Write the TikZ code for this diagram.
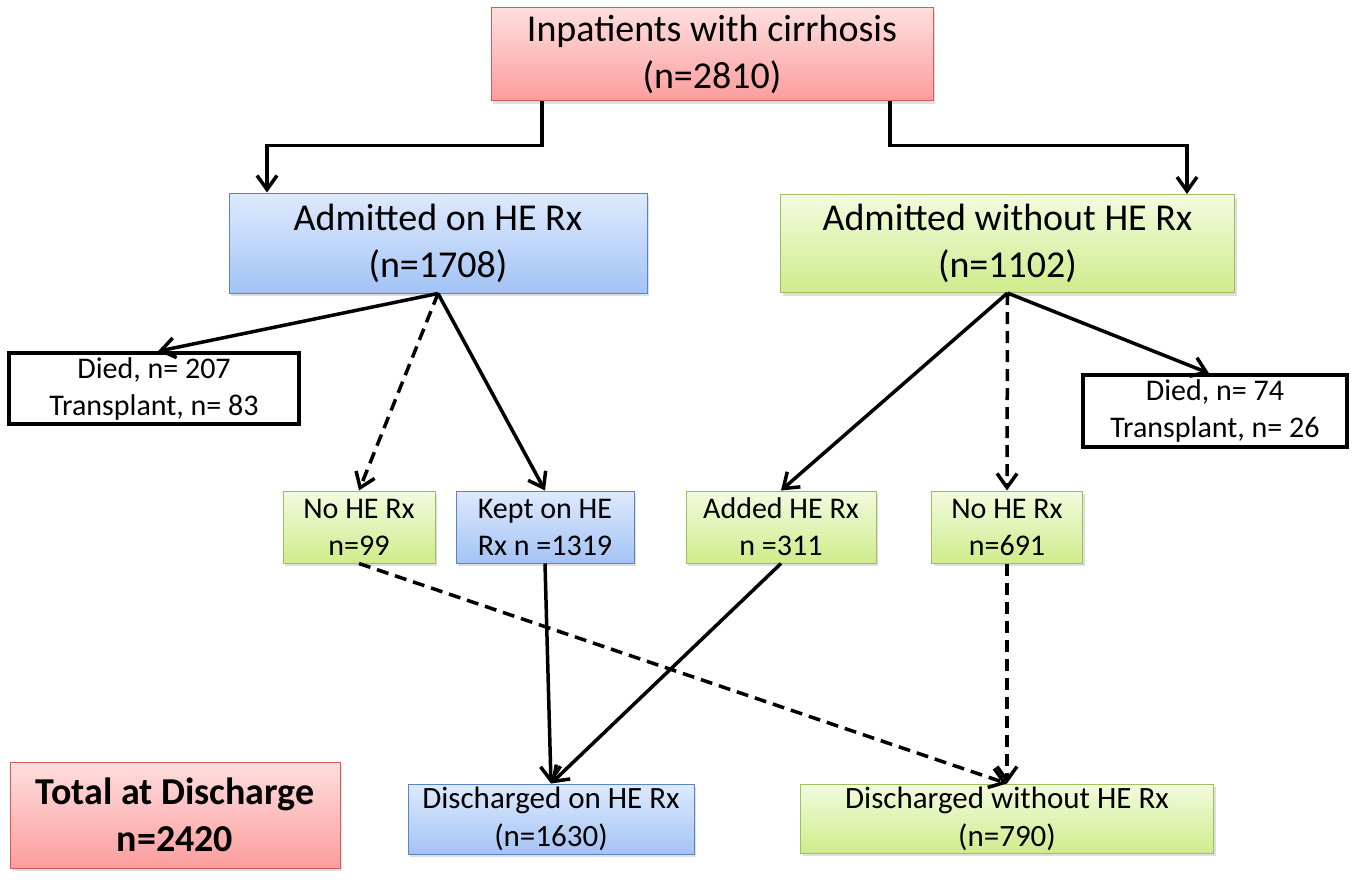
\documentclass[tikz,border=0pt]{standalone}
\usepackage{fontspec}
\setmainfont{Carlito}
\usetikzlibrary{arrows.meta,shadows}

\definecolor{redtop}{HTML}{FFDEDE}
\definecolor{redbot}{HTML}{FB9D9D}
\definecolor{redline}{HTML}{D45B5B}
\definecolor{bluetop}{HTML}{DEEAFD}
\definecolor{bluebot}{HTML}{A3C3F5}
\definecolor{blueline}{HTML}{5585C5}
\definecolor{greentop}{HTML}{F3FBDF}
\definecolor{greenbot}{HTML}{CFEC8B}
\definecolor{greenline}{HTML}{9BC25A}

\begin{document}
\begin{tikzpicture}[
            x=1pt, y=1pt,
            box/.style={
                rectangle,
                line width=1pt,
                align=center,
                inner sep=0pt,
                drop shadow={shadow xshift=2pt, shadow yshift=-3pt, opacity=0.25}
            },
            redbox/.style={box, draw=redline, top color=redtop, bottom color=redbot},
            bluebox/.style={box, draw=blueline, top color=bluetop, bottom color=bluebot},
            greenbox/.style={box, draw=greenline, top color=greentop, bottom color=greenbot},
            outcome/.style={
                rectangle,
                draw,
                line width=3.5pt,
                align=center,
                inner sep=0pt,
                fill=white
            },
            big/.style={font=\fontsize{38}{47}\selectfont},
            small/.style={font=\fontsize{30}{37}\selectfont},
            mid/.style={font=\fontsize{31}{38}\selectfont},
            link/.style={line width=3.5pt, -{Straight Barb[length=14pt,width=20pt]}},
            dashlink/.style={link, dash pattern=on 12pt off 7pt}
        ]

            \useasboundingbox (0,0) rectangle (1357,-880);

            \node[redbox, big, minimum width=442, minimum height=93] (inp) at (712,-54.5) {Inpatients with cirrhosis\\(n=2810)};

            \node[bluebox, big, minimum width=418, minimum height=100] (onrx) at (438,-243) {Admitted on HE Rx\\(n=1708)};
            \node[greenbox, big, minimum width=454, minimum height=98] (norx) at (1007.5,-243.5) {Admitted without HE Rx\\(n=1102)};

            \node[outcome, small, minimum width=290, minimum height=71] (diedL) at (154,-388.5) {Died, n= 207\\Transplant, n= 83};
            \node[outcome, small, minimum width=264, minimum height=72] (diedR) at (1215,-411) {Died, n= 74\\Transplant, n= 26};

            \node[greenbox, small, minimum width=152, minimum height=72] (noL) at (359,-527) {No HE Rx\\n=99};
            \node[bluebox, small, minimum width=178, minimum height=72] (kept) at (545,-527) {Kept on HE\\Rx n =1319};
            \node[greenbox, small, minimum width=190, minimum height=72] (added) at (781,-527) {Added HE Rx\\n =311};
            \node[greenbox, small, minimum width=151, minimum height=72] (noR) at (1007,-527) {No HE Rx\\n=691};

            \node[redbox, big, minimum width=330, minimum height=106] (total) at (175,-815) {\textbf{Total at Discharge}\\\textbf{n=2420}};
            \node[bluebox, mid, minimum width=286, minimum height=70] (dOn) at (551,-819) {Discharged on HE Rx\\(n=1630)};
            \node[greenbox, mid, minimum width=413, minimum height=69] (dOff) at (1007,-818.5) {Discharged without HE Rx\\(n=790)};

            % admission split
            \draw[link] ([xshift=-170]inp.south) -- ++(0,-44) -| ([xshift=-171]onrx.north);
            \draw[link] ([xshift=178]inp.south) -- ++(0,-44) -| ([xshift=179.5]norx.north);

            % on HE Rx
            \draw[link] (onrx.south) -- ([xshift=4]diedL.north);
            \draw[dashlink] (onrx.south) -- (noL.north);
            \draw[link] (onrx.south) -- (kept.north);

            % without HE Rx
            \draw[link] (norx.south) -- (added.north);
            \draw[dashlink] (norx.south) -- (noR.north);
            \draw[link] (norx.south) -- ([xshift=-6]diedR.north);

            % discharge
            \draw[dashlink] (noL.south) -- (dOff.north);
            \draw[link] (kept.south) -- (dOn.north);
            \draw[link] (added.south) -- (dOn.north);
            \draw[dashlink] (noR.south) -- (dOff.north);

        \end{tikzpicture}
\end{document}
